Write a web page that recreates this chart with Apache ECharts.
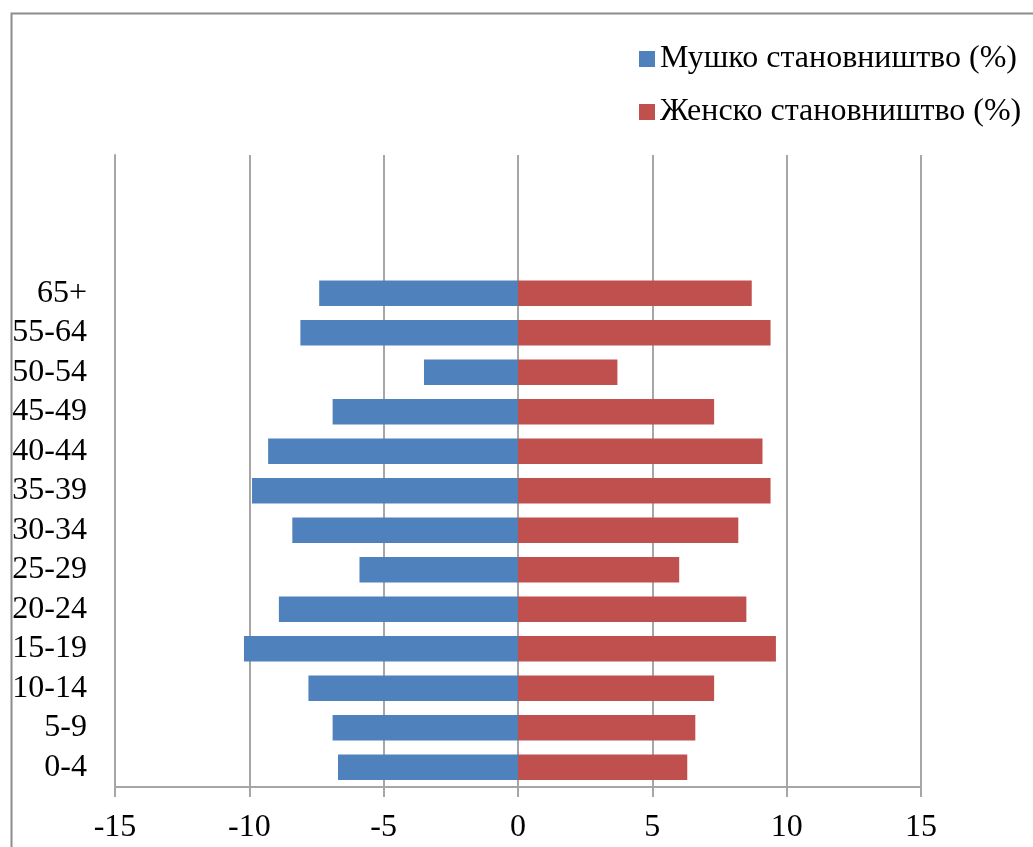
<!DOCTYPE html>
<html>
<head>
<meta charset="utf-8">
<script src="https://cdn.jsdelivr.net/npm/echarts@6/dist/echarts.min.js"></script>
<style>
  html, body { margin: 0; padding: 0; background: #fff; }
  #chart { width: 1033px; height: 847px; }
</style>
</head>
<body>
<div id="chart"></div>
<script>
// Age groups, bottom to top; three blank slots leave room for the legend
const ageGroups = ['0-4', '5-9', '10-14', '15-19', '20-24', '25-29', '30-34',
  '35-39', '40-44', '45-49', '50-54', '55-64', '65+', '', '', ''];

// Share of population per age group (%), male shown as negative values
const malePct = [-6.7, -6.9, -7.8, -10.2, -8.9, -5.9, -8.4, -9.9, -9.3, -6.9, -3.5, -8.1, -7.4];
const femalePct = [6.3, 6.6, 7.3, 9.6, 8.5, 6.0, 8.2, 9.4, 9.1, 7.3, 3.7, 9.4, 8.7];

const seriesNames = ['Мушко становништво (%)', 'Женско становништво (%)'];
const xTicks = { min: -15, max: 15, step: 5 };

const FONT = '"Liberation Serif", "Times New Roman", serif';
const GRID_GRAY = '#a6a6a6';

const chart = echarts.init(document.getElementById('chart'), null, { renderer: 'canvas' });

chart.setOption({
  backgroundColor: '#ffffff',
  animation: false,
  graphic: [{
    type: 'rect',
    left: 9, top: 11,
    shape: { width: 1200, height: 1000 },
    style: { fill: 'none', stroke: '#8c8c8c', lineWidth: 2 },
    silent: true
  }],
  legend: {
    orient: 'vertical',
    left: 634,
    top: 36,
    itemWidth: 16,
    itemHeight: 16,
    itemGap: 17,
    icon: 'rect',
    textStyle: { fontFamily: FONT, fontSize: 32, color: '#000', lineHeight: 36 },
    data: seriesNames
  },
  grid: { left: 115, right: 112, top: 155, bottom: 60, containLabel: false },
  xAxis: {
    type: 'value',
    min: xTicks.min,
    max: xTicks.max,
    interval: xTicks.step,
    axisLine: { show: true, onZero: false, lineStyle: { color: GRID_GRAY, width: 2 } },
    axisTick: { show: true, length: 10, lineStyle: { color: GRID_GRAY, width: 2 } },
    splitLine: { show: true, lineStyle: { color: GRID_GRAY, width: 2 } },
    axisLabel: { fontFamily: FONT, fontSize: 32, color: '#000', margin: 25 }
  },
  yAxis: {
    type: 'category',
    data: ageGroups,
    axisLine: { show: true, onZero: false, lineStyle: { color: GRID_GRAY, width: 2 } },
    axisTick: { show: false },
    splitLine: { show: false },
    axisLabel: {
      fontFamily: FONT, fontSize: 32, color: '#000', margin: 28, interval: 0,
      padding: [7, 0, 0, 0]
    }
  },
  series: [
    {
      name: seriesNames[0],
      type: 'bar',
      data: malePct,
      barWidth: '65%',
      barGap: '-100%',
      itemStyle: { color: '#4f81bd' }
    },
    {
      name: seriesNames[1],
      type: 'bar',
      data: femalePct,
      barWidth: '65%',
      barGap: '-100%',
      itemStyle: { color: '#c0504d' }
    }
  ]
});
</script>
</body>
</html>
